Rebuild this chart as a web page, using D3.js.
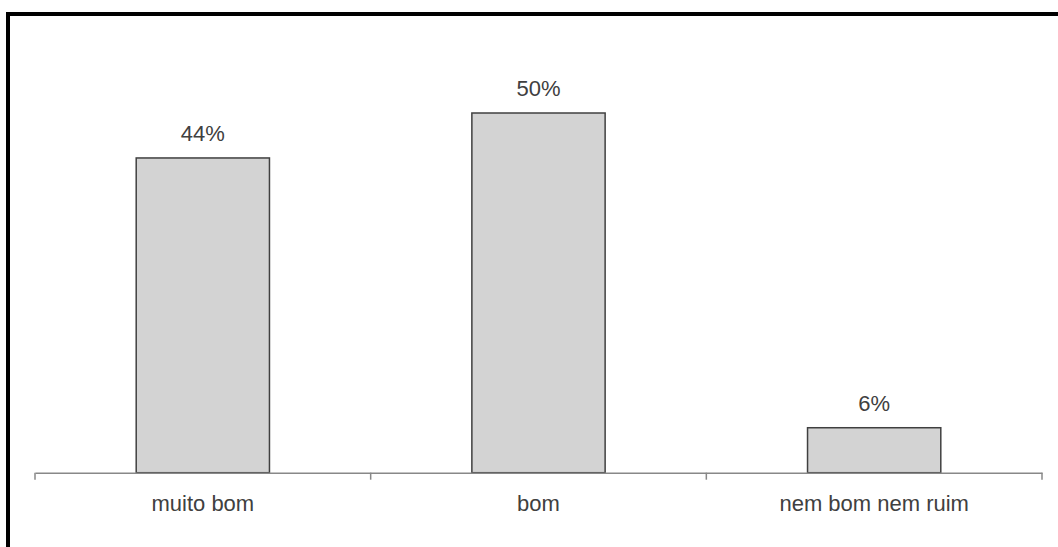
<!DOCTYPE html>
<html><head><meta charset="utf-8">
<script src="https://cdn.jsdelivr.net/npm/d3@7"></script>
<style>body{margin:0;background:#fff}svg{display:block}</style>
</head><body>
<svg id="c" width="1058" height="547"></svg>
<script>
const categories = ["muito bom", "bom", "nem bom nem ruim"];
const values = [43.75, 50, 6.25];
const labels = ["44%", "50%", "6%"];

const svg = d3.select("#c");
svg.append("rect").attr("x", 8).attr("y", 14).attr("width", 1070).attr("height", 560)
  .attr("fill", "#fff").attr("stroke", "#000").attr("stroke-width", 4);

const x = d3.scaleBand().domain(categories).range([35, 1042]).paddingInner(0).paddingOuter(0);
const y = d3.scaleLinear().domain([0, 50]).range([472.7, 113]);
const bw = x.bandwidth() * 0.397;

svg.selectAll("rect.bar").data(values).enter().append("rect").attr("class", "bar")
  .attr("x", (d, i) => x(categories[i]) + (x.bandwidth() - bw) / 2)
  .attr("y", d => y(d)).attr("width", bw).attr("height", d => y(0) - y(d))
  .attr("fill", "#d3d3d3").attr("stroke", "#404040").attr("stroke-width", 1.5);

const axis = d3.axisBottom(x).tickSize(0).tickFormat("");
const g = svg.append("g").attr("transform", `translate(0,${y(0)})`).call(axis);
g.select(".domain").attr("stroke", "#888").attr("stroke-width", 1.5);
const edges = [35].concat(categories.map(c => x(c) + x.bandwidth()));
g.selectAll("line.tk").data(edges).enter().append("line").attr("class", "tk")
  .attr("x1", d => d).attr("x2", d => d).attr("y1", 0).attr("y2", 7)
  .attr("stroke", "#888").attr("stroke-width", 1.5);

svg.selectAll("text.cat").data(categories).enter().append("text").attr("class", "cat")
  .attr("x", d => x(d) + x.bandwidth() / 2).attr("y", 511)
  .attr("text-anchor", "middle").attr("font-family", "Liberation Sans, Arial, sans-serif")
  .attr("font-size", 22).attr("fill", "#404040").text(d => d);

svg.selectAll("text.val").data(values).enter().append("text").attr("class", "val")
  .attr("x", (d, i) => x(categories[i]) + x.bandwidth() / 2).attr("y", d => y(d) - 17)
  .attr("text-anchor", "middle").attr("font-family", "Liberation Sans, Arial, sans-serif")
  .attr("font-size", 22).attr("fill", "#404040").text((d, i) => labels[i]);
</script>
</body></html>
